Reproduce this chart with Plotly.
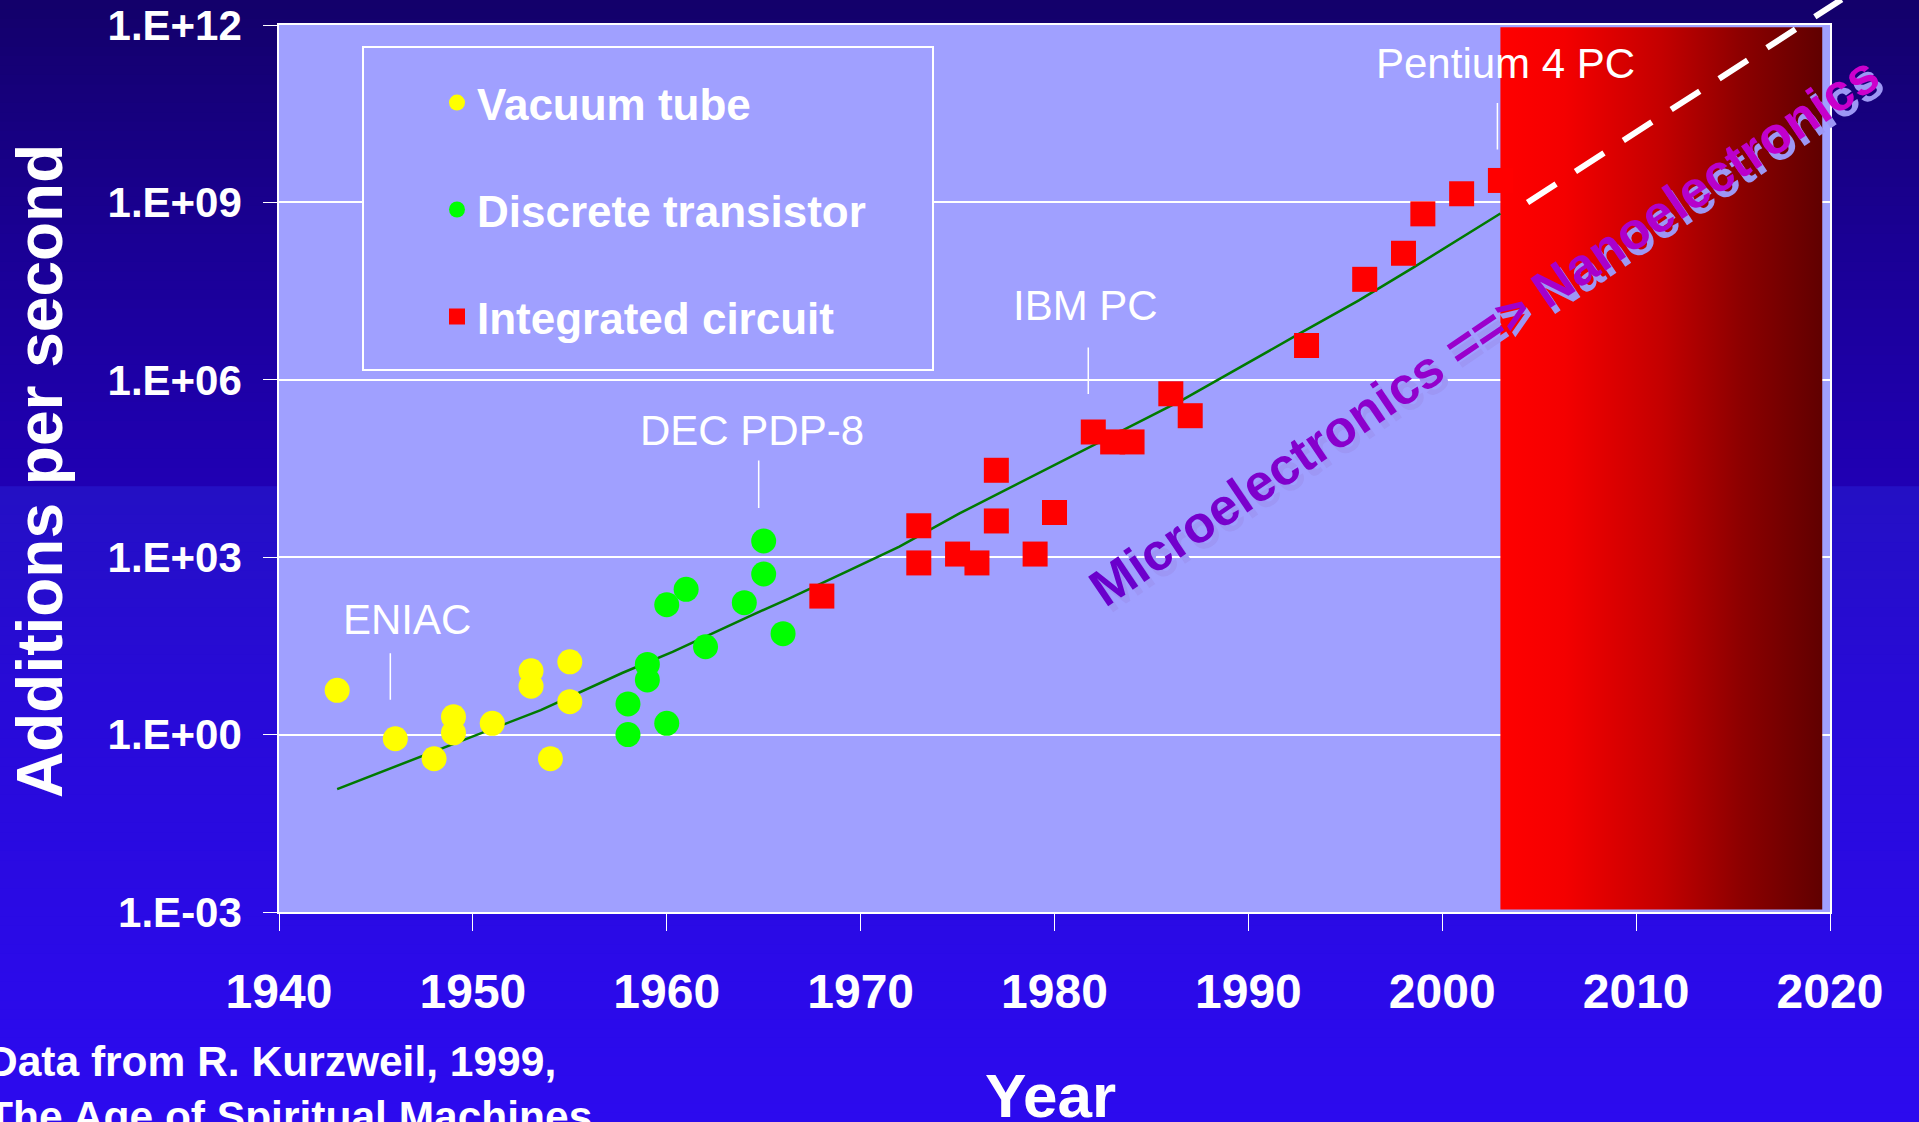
import math
import plotly.graph_objects as go

# ---------------------------------------------------------------- data
vacuum_years = [1943, 1946, 1948, 1949, 1949, 1951, 1953, 1953, 1954, 1955, 1955]
vacuum_adds = [5.6, 0.85, 0.39, 2.0, 1.07, 1.55, 12, 6.6, 0.39, 17, 3.6]

transistor_years = [1958, 1958, 1959, 1959, 1960, 1960, 1961, 1962, 1964, 1965, 1965, 1966]
transistor_adds = [3.3, 1.0, 15.4, 8.4, 1.55, 157, 286, 30.6, 170, 1880, 520, 51]

ic_years = [1968, 1973, 1973, 1975, 1976, 1977, 1977, 1979, 1980, 1982,
            1983, 1984, 1986, 1987, 1993, 1996, 1998, 1999, 2001, 2003]
ic_adds = [220, 3400, 800, 1130, 800, 29500, 4100, 1130, 5700, 1.31e5,
           8.9e4, 8.9e4, 5.8e5, 2.47e5, 3.8e6, 5.0e7, 1.38e8, 6.4e8, 1.4e9, 2.35e9]

trend_years = [1943, 1953.5, 1957.7, 1960.3, 1964.2, 1966.3, 1969.3, 1972.0,
               1975.1, 1981.9, 1986.6, 1992.7, 1995.7, 1998.5, 2003.0]
trend_adds = [0.12, 2.6, 11, 25, 98, 200, 575, 1510,
              5500, 7.4e4, 4.57e5, 6.2e6, 2.2e7, 7.9e7, 6.5e8]

projection_years = [2004.4, 2020.6]
projection_adds = [1.0e9, 2.7e12]

nano_era_years = [2003.0, 2019.6]
nano_era_adds = [1.1e-3, 9.2e11]

milestone_names = ["ENIAC", "DEC PDP-8", "IBM PC", "Pentium 4 PC"]
milestone_years = [1946, 1965, 1982, 2003]
milestone_adds = [0.85, 1880, 1.31e5, 2.35e9]

year_ticks = [1940, 1950, 1960, 1970, 1980, 1990, 2000, 2010, 2020]
adds_tick_vals = [1e-3, 1e0, 1e3, 1e6, 1e9, 1e12]
adds_tick_text = ["1.E-03", "1.E+00", "1.E+03", "1.E+06", "1.E+09", "1.E+12"]

# ---------------------------------------------------------------- layout geometry (px)
W, H = 1919, 1122
PLOT_L, PLOT_R, PLOT_T, PLOT_B = 279, 1830, 25, 912
YEAR_MIN, YEAR_MAX = 1940, 2020
LOG_MIN, LOG_MAX = -3, 12

ARIAL = "Liberation Sans, Arial, sans-serif"
PLOT_BG = "#a0a0ff"


def fx(px):
    return px / W


def fy(py):
    return 1 - py / H


def hex_to_rgb(h):
    h = h.lstrip("#")
    return tuple(int(h[i:i + 2], 16) for i in (0, 2, 4))


def mix(c0, c1, t):
    a, b = hex_to_rgb(c0), hex_to_rgb(c1)
    return "#%02x%02x%02x" % tuple(round(a[i] + (b[i] - a[i]) * t) for i in range(3))


def ramp(stops, pos):
    for (p0, c0), (p1, c1) in zip(stops, stops[1:]):
        if p0 <= pos <= p1:
            return mix(c0, c1, (pos - p0) / (p1 - p0) if p1 > p0 else 0)
    return stops[-1][1]


px_per_year = (PLOT_R - PLOT_L) / (YEAR_MAX - YEAR_MIN)
px_per_decade = (PLOT_B - PLOT_T) / (LOG_MAX - LOG_MIN)

fig = go.Figure()

# shaded nanoelectronics era
fig.add_trace(go.Scatter(
    x=[nano_era_years[0], nano_era_years[1], nano_era_years[1], nano_era_years[0], nano_era_years[0]],
    y=[nano_era_adds[0], nano_era_adds[0], nano_era_adds[1], nano_era_adds[1], nano_era_adds[0]],
    mode="lines", line=dict(width=0), fill="toself",
    fillgradient=dict(type="horizontal",
                      colorscale=[[0, "#ff0000"], [0.2, "#f40000"], [0.5, "#c40000"],
                                  [0.75, "#8c0000"], [1, "#600000"]]),
    showlegend=False, hoverinfo="skip"))

# trend curve
fig.add_trace(go.Scatter(x=trend_years, y=trend_adds, mode="lines",
                         line=dict(color="#007a00", width=2.5),
                         showlegend=False, hoverinfo="skip"))

fig.add_trace(go.Scatter(x=vacuum_years, y=vacuum_adds, mode="markers", name="Vacuum tube",
                         legendgroup="vt",
                         marker=dict(symbol="circle", size=25, color="#ffff00", line=dict(width=0))))
fig.add_trace(go.Scatter(x=transistor_years, y=transistor_adds, mode="markers",
                         name="Discrete transistor", legendgroup="dt",
                         marker=dict(symbol="circle", size=25, color="#00ff00", line=dict(width=0))))
fig.add_trace(go.Scatter(x=ic_years, y=ic_adds, mode="markers", name="Integrated circuit",
                         legendgroup="ic",
                         marker=dict(symbol="square", size=25, color="#ff0000", line=dict(width=0))))

# extrapolation, drawn on page-wide axes so it can run past the frame
fig.add_trace(go.Scatter(x=projection_years, y=projection_adds, mode="lines",
                         xaxis="x2", yaxis="y2",
                         line=dict(color="white", width=6, dash="34px,23px"),
                         showlegend=False, hoverinfo="skip"))

# ---------------------------------------------------------------- background
bg_stops = [(0, "#13006a"), (240, "#1a0094"), (486, "#2000b4"), (488, "#2410c4"),
            (700, "#280ad8"), (1000, "#2b0aea"), (1122, "#2c0aee")]
shapes = []
n_bands = 120
band = H / n_bands
for i in range(n_bands):
    y0 = i * band
    shapes.append(dict(type="rect", xref="paper", yref="paper", layer="below",
                       x0=0, x1=1, y0=fy(y0 + band + 1), y1=fy(y0),
                       fillcolor=ramp(bg_stops, y0 + band / 2), line=dict(width=0)))
shapes.append(dict(type="rect", xref="x domain", yref="y domain", layer="below",
                   x0=0, x1=1, y0=0, y1=1, fillcolor=PLOT_BG, line=dict(width=0)))
# legend frame
shapes.append(dict(type="rect", xref="paper", yref="paper", layer="above",
                   x0=fx(363), x1=fx(933), y0=fy(370), y1=fy(47),
                   fillcolor=PLOT_BG, line=dict(color="white", width=2)))

# ---------------------------------------------------------------- annotations
annotations = []
# leader line (top-end offset, gap to the point, sideways nudge) and label offset, in px
leader_ay = [-87, -82, -86, -79]
leader_standoff = [39, 33, 38, 31]
leader_dx = [-5, -5, -5, -3]
label_shift = [(12, 119), (-12, 110), (-8, 127), (5, 117)]
for name, yr, val, ay, so, ldx, (sx, sy) in zip(milestone_names, milestone_years, milestone_adds,
                                                 leader_ay, leader_standoff, leader_dx, label_shift):
    annotations.append(dict(x=yr, y=math.log10(val), xref="x", yref="y", text="",
                            showarrow=True, arrowhead=0, arrowwidth=1.5, arrowcolor="white",
                            ax=0, ay=ay, standoff=so, xshift=ldx))
    annotations.append(dict(x=yr, y=math.log10(val), xref="x", yref="y", text=name,
                            showarrow=False, xanchor="center", yanchor="middle",
                            xshift=sx, yshift=sy,
                            font=dict(family=ARIAL, size=42, color="white")))

annotations.append(dict(text="Additions per second", textangle=-90, showarrow=False,
                        xref="paper", yref="paper", x=fx(40), y=fy(471),
                        xanchor="center", yanchor="middle",
                        font=dict(family=ARIAL, size=64, color="white", weight="bold")))
annotations.append(dict(text="Year", showarrow=False, xref="paper", yref="paper",
                        x=fx(1050), y=fy(1095), xanchor="center", yanchor="middle",
                        font=dict(family=ARIAL, size=62, color="white", weight="bold")))
annotations.append(dict(text="Data from R. Kurzweil, 1999,<br>The Age of Spiritual Machines",
                        showarrow=False, xref="paper", yref="paper", align="left",
                        x=fx(-15), y=fy(1036), xanchor="left", yanchor="top",
                        font=dict(family=ARIAL, size=42.5, color="white", weight="bold")))

slogan = "Microelectronics ==> Nanoelectronics"
n_chars = len(slogan)
colored = "".join(
    '<span style="color:%s">%s</span>' % (mix("#6a00cc", "#cc00cc", i / (n_chars - 1)),
                                          ch.replace(">", "&gt;"))
    for i, ch in enumerate(slogan))
for text, dx, dy, color in [(slogan.replace(">", "&gt;"), 5, -6, "#9d97f5"), (colored, 0, 0, "#6600cc")]:
    annotations.append(dict(text=text, textangle=-34, showarrow=False,
                            xref="paper", yref="paper", x=fx(1484), y=fy(331),
                            xanchor="center", yanchor="middle",
                            xshift=dx, yshift=dy,
                            font=dict(family=ARIAL, size=52, color=color, weight="bold")))

# ---------------------------------------------------------------- axes
x_dom = [fx(PLOT_L), fx(PLOT_R)]
y_dom = [fy(PLOT_B), fy(PLOT_T)]

fig.update_layout(
    width=W, height=H, autosize=False,
    margin=dict(l=0, r=0, t=0, b=0, pad=0, autoexpand=False),
    paper_bgcolor="#13006a", plot_bgcolor="rgba(0,0,0,0)",
    showlegend=True,
    legend=dict(x=fx(437), y=fy(67.5), xanchor="left", yanchor="top",
                bgcolor="rgba(0,0,0,0)", borderwidth=0, traceorder="grouped",
                tracegroupgap=46.7, itemsizing="trace",
                font=dict(family=ARIAL, size=44, color="white", weight="bold")),
    xaxis=dict(domain=x_dom, range=[YEAR_MIN, YEAR_MAX], anchor="y", automargin=False,
               tickvals=year_ticks, ticktext=[str(v) for v in year_ticks],
               ticks="outside", ticklen=17, tickwidth=1, tickcolor="white",
               showline=True, linecolor="white", linewidth=1.5, mirror=True,
               showgrid=False, zeroline=False, ticklabelstandoff=20,
               tickfont=dict(family=ARIAL, size=48, color="white", weight="bold")),
    xaxis3=dict(overlaying="x", anchor="y", range=[YEAR_MIN, YEAR_MAX], automargin=False,
                tickvals=year_ticks, ticks="inside", ticklen=13, tickwidth=1,
                tickcolor="white", showticklabels=False, showgrid=False,
                showline=False, zeroline=False),
    yaxis=dict(domain=y_dom, type="log", range=[LOG_MIN, LOG_MAX], anchor="x", automargin=False,
               tickvals=adds_tick_vals, ticktext=adds_tick_text,
               ticks="outside", ticklen=14, tickwidth=1, tickcolor="white",
               showline=True, linecolor="white", linewidth=1.5, mirror=True,
               showgrid=True, gridcolor="white", gridwidth=1.5, zeroline=False,
               ticklabelstandoff=13,
               tickfont=dict(family=ARIAL, size=42, color="white", weight="bold")),
    xaxis2=dict(domain=[0, 1], anchor="y2", visible=False, automargin=False,
                range=[YEAR_MIN - PLOT_L / px_per_year, YEAR_MAX + (W - PLOT_R) / px_per_year]),
    yaxis2=dict(domain=[0, 1], anchor="x2", visible=False, type="log", automargin=False,
                range=[LOG_MIN - (H - PLOT_B) / px_per_decade, LOG_MAX + PLOT_T / px_per_decade]),
    shapes=shapes,
    annotations=annotations,
)

fig.write_html("out.html", config={"displayModeBar": False})
